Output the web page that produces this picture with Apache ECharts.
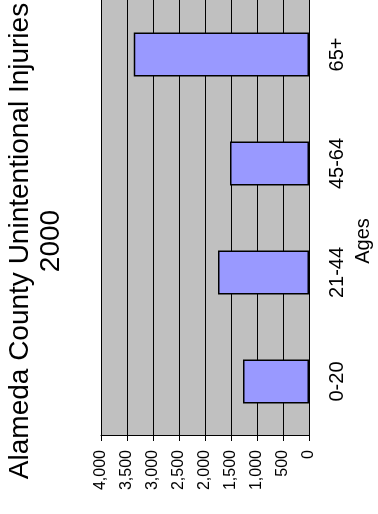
<!DOCTYPE html>
<html>
<head>
<meta charset="utf-8">
<script src="https://cdn.jsdelivr.net/npm/echarts@6/dist/echarts.min.js"></script>
<style>
  html, body { margin: 0; padding: 0; background: #fff; width: 378px; height: 514px; overflow: hidden; }
  /* chart is drawn upright (514x378) and turned a quarter turn counter-clockwise */
  #chart {
    position: absolute; left: 0; top: 0;
    width: 514px; height: 378px;
    transform-origin: 0 0;
    transform: translateY(514px) rotate(-90deg);
  }
</style>
</head>
<body>
<div id="chart"></div>
<script>
// data
const ageGroups = ['0-20', '21-44', '45-64', '65+'];
const injuries = [1270, 1750, 1520, 3370];
const valueTicks = [0, 500, 1000, 1500, 2000, 2500, 3000, 3500, 4000];

const font = 'Liberation Sans, Arial, sans-serif';
const myChart = echarts.init(document.getElementById('chart'));

const option = {
  animation: false,
  title: {
    text: 'Alameda County Unintentional Injuries\n2000',
    left: 268,
    top: 0,
    textAlign: 'center',
    textStyle: {
      fontFamily: font,
      fontSize: 28,
      fontWeight: 'normal',
      lineHeight: 31,
      color: '#000'
    }
  },
  grid: {
    left: 78,
    right: 0,
    top: 101,
    bottom: 69,
    show: true,
    backgroundColor: '#c0c0c0',
    borderWidth: 0
  },
  xAxis: {
    type: 'category',
    data: ageGroups,
    name: 'Ages',
    nameLocation: 'middle',
    nameGap: 44,
    nameTextStyle: {
      fontFamily: font,
      fontSize: 20,
      color: '#000',
      padding: [0, 46, 0, 0]
    },
    axisLine: { lineStyle: { color: '#000', width: 1 } },
    axisTick: { length: 6, lineStyle: { color: '#000' } },
    axisLabel: {
      fontFamily: font,
      fontSize: 20,
      color: '#000',
      margin: 18
    }
  },
  yAxis: {
    type: 'value',
    min: valueTicks[0],
    max: valueTicks[valueTicks.length - 1],
    interval: valueTicks[1] - valueTicks[0],
    axisLine: { show: true, lineStyle: { color: '#000', width: 1 } },
    axisTick: { show: true, length: 5, lineStyle: { color: '#000' } },
    axisLabel: {
      fontFamily: font,
      fontSize: 16,
      color: '#000',
      margin: 14,
      formatter: function (v) { return v.toLocaleString('en-US'); }
    },
    splitLine: { lineStyle: { color: '#000', width: 1 } }
  },
  series: [{
    name: 'Injuries',
    type: 'bar',
    data: injuries,
    barWidth: 44,
    itemStyle: {
      color: '#9999ff',
      borderColor: '#000',
      borderWidth: 1.5
    }
  }]
};
myChart.setOption(option);
</script>
</body>
</html>
